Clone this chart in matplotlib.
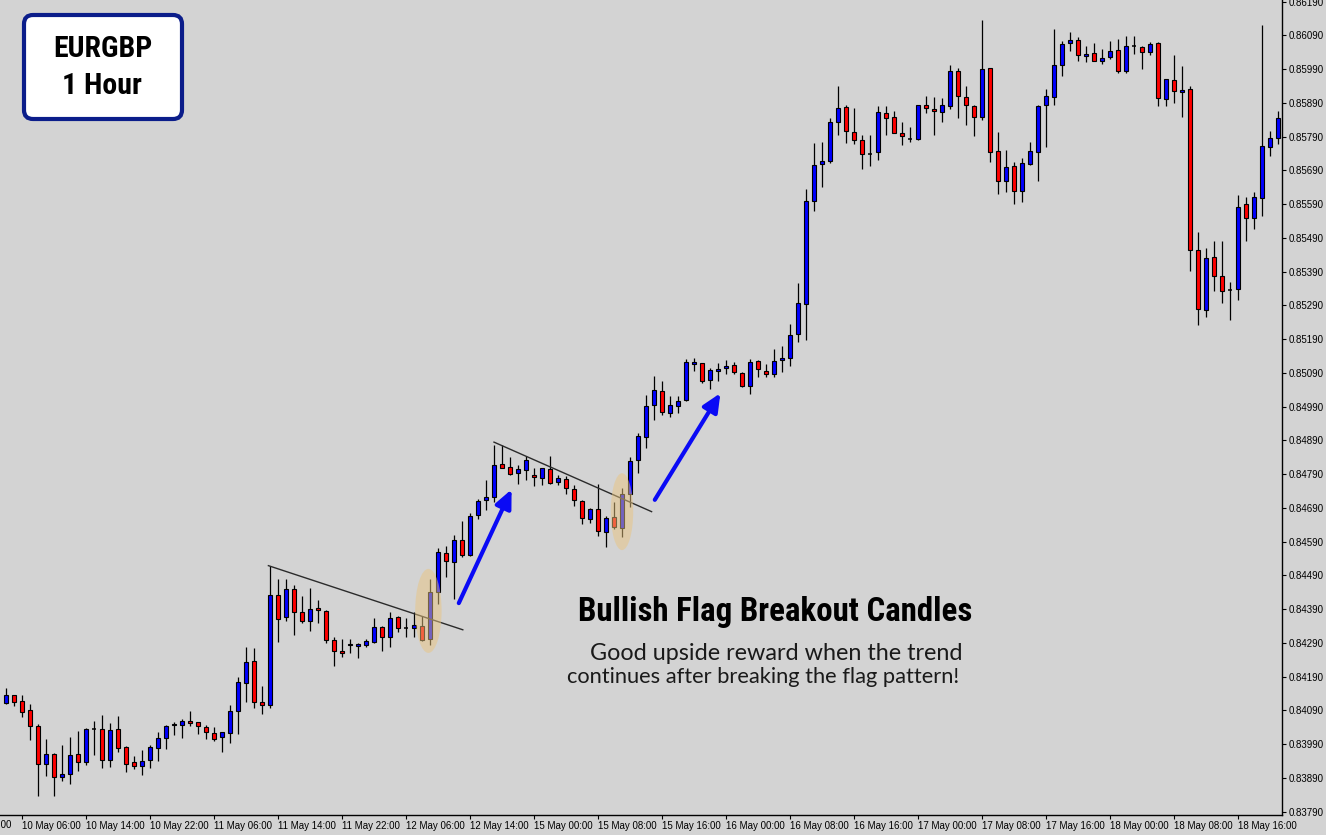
import numpy as np
import matplotlib
matplotlib.use("Agg")
import matplotlib.pyplot as plt
from matplotlib import font_manager as fm
from matplotlib.patches import Rectangle, Ellipse, FancyBboxPatch, FancyArrowPatch
from matplotlib.transforms import IdentityTransform

W, H = 1326, 835
BG = "#d3d3d3"
BULL = "#0000ff"
BEAR = "#ff0000"

# EURGBP H1 candles, bar 0 = 10 May 06:00 (first visible bar is -3)
first_bar = -3
opens = [
    0.84115, 0.84113, 0.84135, 0.84117, 0.84090, 0.84044, 0.83930, 0.83960, 0.83892, 0.83901,
    0.83960, 0.83938, 0.84034, 0.84034, 0.83942, 0.84034, 0.83981, 0.83936, 0.83926, 0.83942,
    0.83980, 0.84009, 0.84046, 0.84048, 0.84058, 0.84055, 0.84040, 0.84022, 0.84010, 0.84022,
    0.84087, 0.84170, 0.84236, 0.84114, 0.84105, 0.84431, 0.84366, 0.84449, 0.84381, 0.84354,
    0.84393, 0.84384, 0.84298, 0.84265, 0.84283, 0.84280, 0.84283, 0.84292, 0.84336, 0.84307,
    0.84366, 0.84335, 0.84333, 0.84339, 0.84303, 0.84440, 0.84556, 0.84529, 0.84594, 0.84550,
    0.84668, 0.84713, 0.84722, 0.84819, 0.84810, 0.84793, 0.84801, 0.84787, 0.84778, 0.84804,
    0.84766, 0.84775, 0.84745, 0.84710, 0.84656, 0.84686, 0.84618, 0.84662, 0.84630, 0.84730,
    0.84831, 0.84899, 0.84994, 0.85036, 0.84970, 0.84991, 0.85009, 0.85116, 0.85119, 0.85068,
    0.85095, 0.85104, 0.85113, 0.85089, 0.85050, 0.85125, 0.85095, 0.85086, 0.85127, 0.85134,
    0.85205, 0.85293, 0.85599, 0.85708, 0.85717, 0.85833, 0.85877, 0.85803, 0.85779, 0.85738,
    0.85744, 0.85859, 0.85848, 0.85800, 0.85782, 0.85782, 0.85883, 0.85871, 0.85862, 0.85880,
    0.85984, 0.85907, 0.85880, 0.85848, 0.85993, 0.85747, 0.85658, 0.85702, 0.85628, 0.85708,
    0.85744, 0.85883, 0.85907, 0.86002, 0.86067, 0.86076, 0.86028, 0.86037, 0.86013, 0.86025,
    0.86046, 0.85984, 0.86058, 0.86055, 0.86040, 0.86067, 0.85901, 0.85957, 0.85922, 0.85931,
    0.85453, 0.85276, 0.85433, 0.85376, 0.85335, 0.85338, 0.85590, 0.85548, 0.85607, 0.85759,
    0.85785,
]
highs = [
    0.84124, 0.84156, 0.84136, 0.84136, 0.84109, 0.84049, 0.84005, 0.83964, 0.83988, 0.84011,
    0.84029, 0.84037, 0.84059, 0.84076, 0.84053, 0.84073, 0.83984, 0.83954, 0.83973, 0.83988,
    0.84026, 0.84047, 0.84057, 0.84064, 0.84088, 0.84055, 0.84046, 0.84040, 0.84027, 0.84105,
    0.84188, 0.84277, 0.84275, 0.84162, 0.84517, 0.84479, 0.84479, 0.84461, 0.84429, 0.84452,
    0.84416, 0.84387, 0.84307, 0.84301, 0.84301, 0.84289, 0.84301, 0.84363, 0.84339, 0.84381,
    0.84369, 0.84363, 0.84381, 0.84369, 0.84479, 0.84570, 0.84578, 0.84609, 0.84650, 0.84674,
    0.84716, 0.84772, 0.84876, 0.84876, 0.84840, 0.84816, 0.84843, 0.84807, 0.84807, 0.84843,
    0.84787, 0.84784, 0.84757, 0.84713, 0.84689, 0.84760, 0.84665, 0.84707, 0.84748, 0.84840,
    0.84911, 0.85024, 0.85080, 0.85065, 0.85021, 0.85021, 0.85131, 0.85134, 0.85119, 0.85104,
    0.85119, 0.85127, 0.85122, 0.85092, 0.85131, 0.85127, 0.85116, 0.85160, 0.85170, 0.85235,
    0.85357, 0.85634, 0.85770, 0.85773, 0.85845, 0.85939, 0.85883, 0.85874, 0.85794, 0.85794,
    0.85880, 0.85880, 0.85865, 0.85833, 0.85818, 0.85883, 0.85910, 0.85907, 0.85904, 0.86002,
    0.85993, 0.85939, 0.85883, 0.86136, 0.85993, 0.85803, 0.85750, 0.85714, 0.85726, 0.85773,
    0.85883, 0.85931, 0.86108, 0.86073, 0.86099, 0.86085, 0.86058, 0.86067, 0.86049, 0.86073,
    0.86079, 0.86088, 0.86088, 0.86058, 0.86070, 0.86070, 0.85960, 0.86031, 0.85999, 0.85939,
    0.85507, 0.85459, 0.85480, 0.85480, 0.85359, 0.85616, 0.85610, 0.85625, 0.86120, 0.85806,
    0.85865,
]
lows = [
    0.84106, 0.84108, 0.84104, 0.84071, 0.84002, 0.83837, 0.83896, 0.83837, 0.83882, 0.83873,
    0.83911, 0.83928, 0.83958, 0.83920, 0.83923, 0.83968, 0.83908, 0.83917, 0.83900, 0.83920,
    0.83941, 0.83977, 0.84017, 0.84009, 0.84045, 0.84021, 0.84006, 0.84000, 0.83966, 0.83993,
    0.84019, 0.84116, 0.84096, 0.84078, 0.84096, 0.84294, 0.84356, 0.84314, 0.84348, 0.84326,
    0.84348, 0.84291, 0.84223, 0.84249, 0.84261, 0.84246, 0.84279, 0.84289, 0.84267, 0.84279,
    0.84323, 0.84307, 0.84307, 0.84297, 0.84285, 0.84405, 0.84485, 0.84420, 0.84544, 0.84547,
    0.84656, 0.84683, 0.84707, 0.84807, 0.84787, 0.84760, 0.84772, 0.84754, 0.84757, 0.84760,
    0.84757, 0.84730, 0.84695, 0.84642, 0.84646, 0.84606, 0.84573, 0.84627, 0.84603, 0.84692,
    0.84793, 0.84867, 0.84950, 0.84964, 0.84959, 0.84970, 0.85006, 0.85095, 0.85059, 0.85042,
    0.85065, 0.85086, 0.85086, 0.85047, 0.85027, 0.85077, 0.85077, 0.85077, 0.85093, 0.85110,
    0.85181, 0.85187, 0.85569, 0.85640, 0.85711, 0.85794, 0.85770, 0.85767, 0.85693, 0.85702,
    0.85720, 0.85794, 0.85800, 0.85765, 0.85773, 0.85779, 0.85859, 0.85794, 0.85833, 0.85871,
    0.85845, 0.85824, 0.85791, 0.85839, 0.85714, 0.85619, 0.85625, 0.85590, 0.85597, 0.85705,
    0.85658, 0.85759, 0.85883, 0.85969, 0.86043, 0.86013, 0.86010, 0.86013, 0.86004, 0.86019,
    0.85978, 0.85978, 0.86034, 0.85990, 0.86031, 0.85880, 0.85880, 0.85889, 0.85848, 0.85391,
    0.85231, 0.85255, 0.85332, 0.85296, 0.85246, 0.85305, 0.85480, 0.85516, 0.85554, 0.85732,
    0.85767,
]
closes = [
    0.84115, 0.84136, 0.84116, 0.84086, 0.84043, 0.83932, 0.83960, 0.83892, 0.83901, 0.83957,
    0.83938, 0.84034, 0.84034, 0.83942, 0.84031, 0.83978, 0.83932, 0.83926, 0.83939, 0.83981,
    0.84007, 0.84043, 0.84049, 0.84058, 0.84052, 0.84043, 0.84025, 0.84006, 0.84027, 0.84087,
    0.84173, 0.84233, 0.84114, 0.84105, 0.84431, 0.84360, 0.84449, 0.84383, 0.84354, 0.84390,
    0.84387, 0.84298, 0.84265, 0.84259, 0.84286, 0.84286, 0.84295, 0.84336, 0.84307, 0.84363,
    0.84333, 0.84335, 0.84342, 0.84300, 0.84440, 0.84559, 0.84532, 0.84594, 0.84550, 0.84665,
    0.84710, 0.84722, 0.84816, 0.84807, 0.84790, 0.84804, 0.84831, 0.84781, 0.84807, 0.84763,
    0.84778, 0.84748, 0.84713, 0.84659, 0.84686, 0.84621, 0.84659, 0.84633, 0.84730, 0.84828,
    0.84902, 0.84991, 0.85039, 0.84973, 0.84994, 0.85006, 0.85122, 0.85122, 0.85065, 0.85098,
    0.85101, 0.85110, 0.85092, 0.85050, 0.85122, 0.85101, 0.85086, 0.85125, 0.85134, 0.85202,
    0.85296, 0.85599, 0.85705, 0.85717, 0.85833, 0.85874, 0.85806, 0.85779, 0.85738, 0.85738,
    0.85862, 0.85845, 0.85800, 0.85791, 0.85782, 0.85883, 0.85874, 0.85865, 0.85883, 0.85984,
    0.85910, 0.85883, 0.85848, 0.85990, 0.85744, 0.85658, 0.85699, 0.85628, 0.85711, 0.85747,
    0.85880, 0.85910, 0.86002, 0.86064, 0.86076, 0.86031, 0.86034, 0.86013, 0.86022, 0.86043,
    0.85984, 0.86058, 0.86058, 0.86040, 0.86064, 0.85904, 0.85960, 0.85925, 0.85927, 0.85454,
    0.85279, 0.85430, 0.85376, 0.85332, 0.85335, 0.85582, 0.85548, 0.85610, 0.85762, 0.85785,
    0.85845,
]

# time axis: one label every 8 bars, the first one 8 bars before bar 0 (mostly off-chart)
time_labels = [
    "9 May 22:00", "10 May 06:00", "10 May 14:00", "10 May 22:00", "11 May 06:00",
    "11 May 14:00", "11 May 22:00", "12 May 06:00", "12 May 14:00", "15 May 00:00",
    "15 May 08:00", "15 May 16:00", "16 May 00:00", "16 May 08:00", "16 May 16:00",
    "17 May 00:00", "17 May 08:00", "17 May 16:00", "18 May 00:00", "18 May 08:00",
    "18 May 16:00",
]
label_step = 8
first_label_bar = -8
price_ticks = [round(0.83790 + 0.001 * i, 5) for i in range(25)]

# drawn annotations (bar index, price)
flag_lines = [((30.8, 0.84519), (55.1, 0.84329)), ((59.0, 0.84885), (78.7, 0.84679))]
breakouts = [(50.8, 0.84385, 3.3, 0.00249), (75.0, 0.84679, 2.8, 0.00228)]
arrows = [((54.6, 0.84408), (61.2, 0.84745)), ((79.1, 0.84714), (87.3, 0.85030))]

# fonts: pick a narrow family if one is around
_installed = {f.name for f in fm.fontManager.ttflist}
COND = next((n for n in ["Roboto Condensed", "Liberation Sans Narrow", "Open Sans Condensed",
                         "Noto Sans Condensed", "DejaVu Sans Condensed"] if n in _installed),
            "DejaVu Sans")
TICKFONT = "Liberation Sans" if "Liberation Sans" in _installed else "DejaVu Sans"
TEXTFONT = "Lato" if "Lato" in _installed else "DejaVu Sans"


def fig_xy(px, py):
    return px / W, 1 - py / H


fig = plt.figure(figsize=(W / 100, H / 100), dpi=100, facecolor=BG)
ax = fig.add_axes([0, 20 / H, 1282 / W, 815 / H], facecolor=BG)

bars = np.arange(first_bar, first_bar + len(opens))
bw = 0.62
for x, o, h, l, c in zip(bars, opens, highs, lows, closes):
    ax.vlines(x, l, h, color="black", lw=0.9, zorder=2)
    if abs(c - o) < 5e-6:
        ax.hlines(o, x - bw / 2, x + bw / 2, color="black", lw=1.1, zorder=3)
    else:
        ax.add_patch(Rectangle((x - bw / 2, min(o, c)), bw, abs(c - o),
                               fc=BULL if c > o else BEAR, ec="black", lw=0.8, zorder=3))

for (x0, y0), (x1, y1) in flag_lines:
    ax.plot([x0, x1], [y0, y1], color="#2b2b2b", lw=1.0, zorder=4)

for cx, cy, w, h in breakouts:
    ax.add_patch(Ellipse((cx, cy), w, h, fc="#e9c580", ec="none", alpha=0.5, zorder=5))

for a, b in arrows:
    ax.add_patch(FancyArrowPatch(a, b, arrowstyle="-|>,head_length=11,head_width=5",
                                 mutation_scale=1, lw=3.0, color="#0a0af5",
                                 shrinkA=0, shrinkB=0, zorder=6))

for s in ("top", "left"):
    ax.spines[s].set_visible(False)
for s in ("right", "bottom"):
    ax.spines[s].set_color("black")
    ax.spines[s].set_linewidth(1.0)

ax.yaxis.tick_right()
ax.set_yticks(price_ticks)
ax.set_yticklabels([f"{p:.5f}" for p in price_ticks], family=TICKFONT, fontsize=7)
xt = [first_label_bar + label_step * i for i in range(1, len(time_labels))]
ax.set_xticks(xt)
ax.set_xticklabels(time_labels[1:], family=TICKFONT, fontsize=7, ha="left")
ax.tick_params(axis="y", direction="out", length=3, width=0.8, pad=1.5, colors="black")
ax.tick_params(axis="x", direction="out", length=3, width=0.8, pad=1, colors="black")
# first label sits mostly left of the picture
ax.text(first_label_bar, -5 / 815, time_labels[0], transform=ax.get_xaxis_transform(),
        ha="left", va="top", family=TICKFONT, fontsize=7, clip_on=False)

ax.set_xlim(-2.75, 157.5)
ax.set_ylim(0.837802, 0.86195)

# instrument box
box = FancyBboxPatch((24, H - 119), 158, 104, boxstyle="round,pad=0,rounding_size=9",
                     fc="white", ec="#0b1d8a", lw=3.0, transform=IdentityTransform())
fig.add_artist(box)
t_sym = fig.text(*fig_xy(103, 49), "EURGBP", ha="center", va="center", family=COND,
                 weight="bold", fontsize=22, color="black")
t_tf = fig.text(*fig_xy(102, 86), "1 Hour", ha="center", va="center", family=COND,
                weight="bold", fontsize=22, color="black")

t_title = fig.text(*fig_xy(775, 612), "Bullish Flag Breakout Candles", ha="center",
                   va="center", family=COND, weight="bold", fontsize=25, color="black")
t_l1 = fig.text(*fig_xy(776, 653), "Good upside reward when the trend", ha="center",
                va="center", family=TEXTFONT, fontsize=14, color="#1a1a1a")
t_l2 = fig.text(*fig_xy(763, 677), "continues after breaking the flag pattern!", ha="center",
                va="center", family=TEXTFONT, fontsize=14, color="#1a1a1a")

# scale free-text sizes so their widths match the picture
fig.canvas.draw()
renderer = fig.canvas.get_renderer()
for t, target in [(t_sym, 99), (t_tf, 80), (t_title, 395), (t_l1, 373), (t_l2, 394)]:
    w = t.get_window_extent(renderer).width
    t.set_fontsize(t.get_fontsize() * target / w)

fig.savefig("out.png", dpi=100, facecolor=BG)
